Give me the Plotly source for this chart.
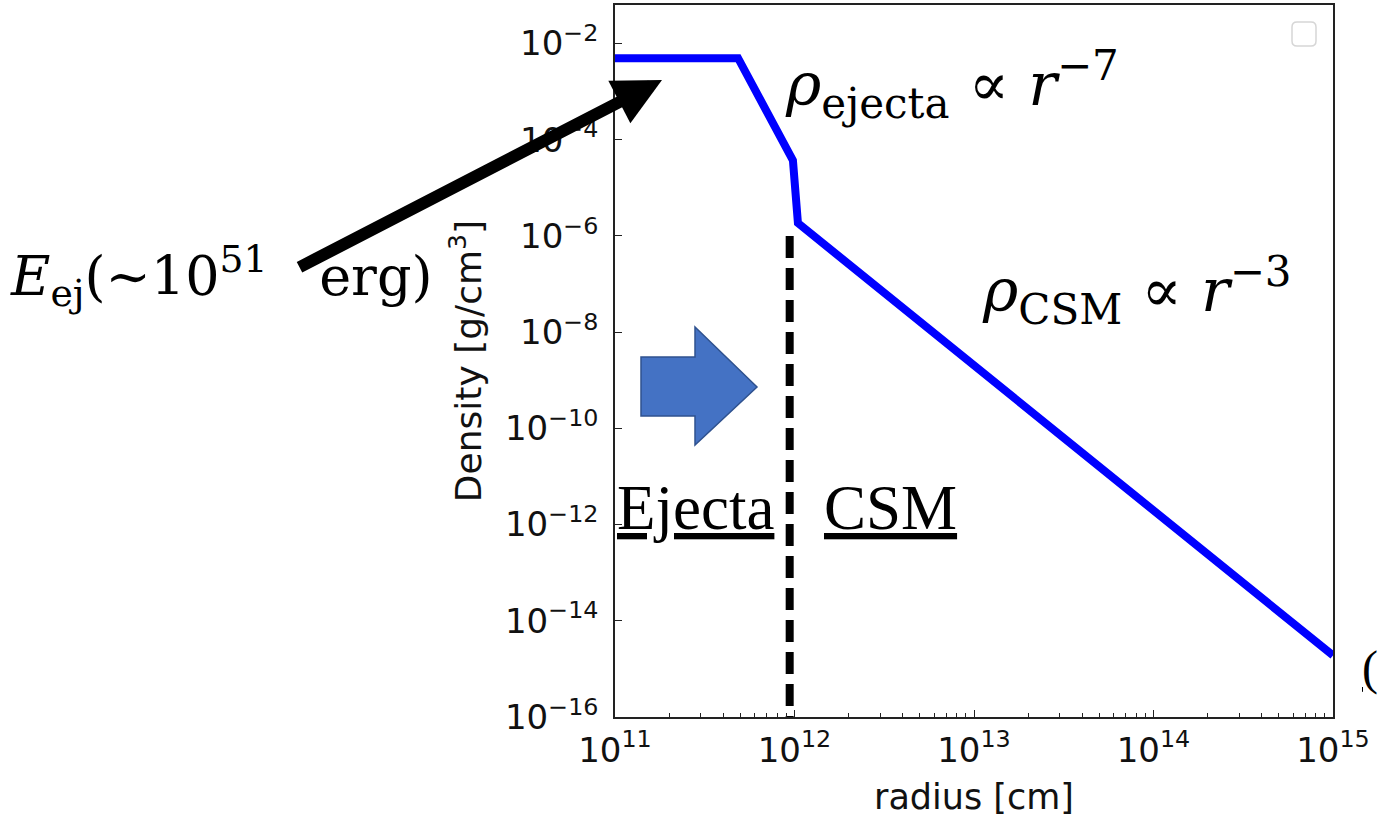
import plotly.graph_objects as go

# ---- data ----
radius = [1e11, 4.85e11, 9.8e11, 1.045e12, 1e15]
density = [4.95e-3, 4.95e-3, 3.7e-5, 1.85e-6, 1.9e-15]
boundary_r = [9.4e11, 9.4e11]
boundary_rho = [1e-6, 1e-16]
x_tick_vals = [1e11, 1e12, 1e13, 1e14, 1e15]
x_exp = ["11", "12", "13", "14", "15"]
y_tick_vals = [1e-2, 1e-4, 1e-6, 1e-8, 1e-10, 1e-12, 1e-14, 1e-16]
y_exp = ["\u22122", "\u22124", "\u22126", "\u22128", "\u221210", "\u221212", "\u221214", "\u221216"]
minor_x = [m * 10 ** e for e in range(11, 15) for m in range(2, 10)]

x_tick_text = ["10<sup>" + e + "</sup>" for e in x_exp]
y_tick_text = ["10<sup>" + e + "</sup>" for e in y_exp]

W, H = 1383, 822
L, R, T, B = 615, 50, 5, 105
PW, PH = W - L - R, H - T - B


def xp(px):
    return (px - L) / PW


def yp(py):
    return (H - B - py) / PH


fig = go.Figure()
fig.add_trace(go.Scatter(x=boundary_r, y=boundary_rho, mode="lines",
                         line=dict(color="black", width=8, dash="22px,10px"),
                         showlegend=False, hoverinfo="skip"))
fig.add_trace(go.Scatter(x=radius, y=density, mode="lines",
                         line=dict(color="#0000ff", width=8),
                         showlegend=False))

axis_common = dict(showline=True, mirror=True, linecolor="#222", linewidth=1.5,
                   showgrid=False, zeroline=False, ticks="inside", ticklen=7,
                   tickwidth=1.2, tickcolor="#222",
                   tickfont=dict(family="DejaVu Sans", size=34, color="#111"))

fig.update_xaxes(type="log", range=[11, 15], tickmode="array", tickvals=x_tick_vals,
                 ticktext=x_tick_text, ticklabelstandoff=2,
                 minor=dict(ticks="inside", ticklen=4, tickcolor="#222", tickwidth=1,
                            tickmode="array", tickvals=minor_x),
                 title=dict(text="radius [cm]", font=dict(family="DejaVu Sans", size=35, color="#111"),
                            standoff=16),
                 **axis_common)
fig.update_yaxes(type="log", range=[-16, -1.2], tickmode="array", tickvals=y_tick_vals,
                 ticktext=y_tick_text, ticklabelstandoff=8,
                 title=dict(text="Density [g/cm<sup>3</sup>]",
                            font=dict(family="DejaVu Sans", size=36, color="#111"), standoff=12),
                 **axis_common)

serif = "Liberation Serif"
math = "DejaVu Serif"
ann = []
# black arrow
ann.append(dict(xref="paper", yref="paper", x=xp(662), y=yp(80), text="", showarrow=True,
                axref="pixel", ayref="pixel", ax=298 - 662, ay=268 - 80,
                arrowhead=2, arrowsize=0.8, arrowwidth=12, arrowcolor="black"))
ann.append(dict(xref="paper", yref="paper", x=xp(8), y=yp(276), xanchor="left", yanchor="middle",
                text="<i>E</i><sub>ej</sub>(\u223c10<sup>51</sup>\u00a0\u00a0\u00a0erg)",
                showarrow=False, font=dict(family=math, size=54, color="black")))
ann.append(dict(xref="paper", yref="paper", x=xp(783), y=yp(84), xanchor="left", yanchor="middle",
                text="<i>\u03c1</i><sub>ejecta</sub> \u221d <i>r</i><sup>\u22127</sup>", showarrow=False,
                font=dict(family=math, size=60, color="black")))
ann.append(dict(xref="paper", yref="paper", x=xp(980), y=yp(290), xanchor="left", yanchor="middle",
                text="<i>\u03c1</i><sub>CSM</sub> \u221d <i>r</i><sup>\u22123</sup>", showarrow=False,
                font=dict(family=math, size=60, color="black")))
ann.append(dict(xref="paper", yref="paper", x=xp(615), y=yp(508), xanchor="left", yanchor="middle",
                text="<u>Ejecta</u>", showarrow=False,
                font=dict(family=serif, size=63, color="black")))
ann.append(dict(xref="paper", yref="paper", x=xp(822), y=yp(508), xanchor="left", yanchor="middle",
                text="<u>CSM</u>", showarrow=False,
                font=dict(family=serif, size=63, color="black")))
ann.append(dict(xref="paper", yref="paper", x=xp(1380), y=yp(668), xanchor="right", yanchor="middle",
                text="<u>(</u>", showarrow=False,
                font=dict(family=serif, size=48, color="black")))

# blue block arrow
pts = [(641, 357), (695, 357), (695, 327), (757, 387), (695, 445), (695, 416), (641, 416)]
path = "M " + " L ".join(f"{xp(a):.5f},{yp(b):.5f}" for a, b in pts) + " Z"
shapes = [dict(type="path", xref="paper", yref="paper", path=path,
               fillcolor="#4472c4", line=dict(color="#2f528f", width=1.5))]
# empty legend box (rounded)
x0, x1, y0, y1, r = 1292, 1316, 22, 46, 5
rp = (f"M {xp(x0+r):.5f},{yp(y0):.5f} L {xp(x1-r):.5f},{yp(y0):.5f} Q {xp(x1):.5f},{yp(y0):.5f} {xp(x1):.5f},{yp(y0+r):.5f} "
      f"L {xp(x1):.5f},{yp(y1-r):.5f} Q {xp(x1):.5f},{yp(y1):.5f} {xp(x1-r):.5f},{yp(y1):.5f} "
      f"L {xp(x0+r):.5f},{yp(y1):.5f} Q {xp(x0):.5f},{yp(y1):.5f} {xp(x0):.5f},{yp(y1-r):.5f} "
      f"L {xp(x0):.5f},{yp(y0+r):.5f} Q {xp(x0):.5f},{yp(y0):.5f} {xp(x0+r):.5f},{yp(y0):.5f} Z")
shapes.append(dict(type="path", xref="paper", yref="paper", path=rp, fillcolor="white",
                   line=dict(color="#d6d6d6", width=1.5)))

fig.update_layout(width=W, height=H, margin=dict(l=L, r=R, t=T, b=B, autoexpand=False),
                  paper_bgcolor="white", plot_bgcolor="white",
                  annotations=ann, shapes=shapes, showlegend=False)
fig.write_html("out.html")
